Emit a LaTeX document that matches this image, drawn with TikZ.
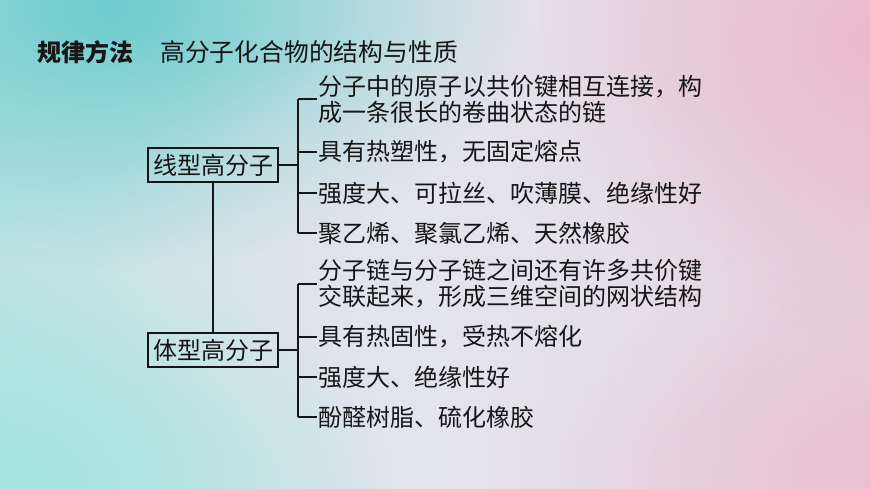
\documentclass[tikz,border=0pt]{standalone}
\usepackage{fontspec}
\newfontfamily\cjk{Noto Sans CJK SC}
\usetikzlibrary{fadings}
\tikzfading[name=softblob, inner color=transparent!0, outer color=transparent!100]
\definecolor{teal1}{RGB}{110,204,206}
\definecolor{cyan1}{RGB}{160,228,224}
\definecolor{pink1}{RGB}{236,186,204}
\definecolor{mid1}{RGB}{228,228,236}
\definecolor{ink}{RGB}{22,22,22}
\tikzset{
  box/.style={draw=ink, line width=1.8pt, inner sep=3pt, font=\cjk\fontsize{24}{26}\selectfont, text=ink, minimum height=34pt},
  item/.style={anchor=west, inner sep=1pt, align=left, font=\cjk\fontsize{24}{26}\selectfont, text=ink},
  link/.style={draw=ink, line width=1.4pt},
  blob/.style={path fading=softblob, fit fading=true},
}
\begin{document}
\begin{tikzpicture}[x=1pt,y=-1pt]
\useasboundingbox (0,0) rectangle (870,489);
% background
\shade[left color=cyan1!55!mid1, right color=pink1!45!mid1, middle color=mid1] (0,0) rectangle (870,489);
\fill[teal1, opacity=1, blob] (110,10) ellipse [x radius=420, y radius=260];
\fill[cyan1, opacity=0.9, blob] (10,480) ellipse [x radius=380, y radius=230];
\fill[pink1, opacity=1, blob] (880,40) ellipse [x radius=340, y radius=300];
\fill[pink1, opacity=0.7, blob] (870,480) ellipse [x radius=320, y radius=220];
\fill[mid1, opacity=0.7, blob] (450,260) ellipse [x radius=360, y radius=240];
% title
\node[anchor=west, inner sep=0pt, font=\cjk\bfseries\fontsize{24}{26}\selectfont, text=ink] (h1) at (37,52) {规律方法};
\node[anchor=west, inner sep=0pt, font=\cjk\fontsize{24.8}{26}\selectfont, text=ink] (h2) at (160,52) {高分子化合物的结构与性质};
% boxes
\node[box, minimum width=130pt] (b1) at (213,165) {线型高分子};
\node[box, minimum width=130pt] (b2) at (213,350) {体型高分子};
\draw[link] (b1) -- (b2);
% junctions
\coordinate (j1) at (298,165);
\coordinate (j2) at (298,350);
\draw[link] (b1.east) -- (j1);
\draw[link] (b2.east) -- (j2);
% items group 1
\node[item] (t11) at (317,99) {分子中的原子以共价键相互连接，构\\成一条很长的卷曲状态的链};
\node[item] (t12) at (317,152) {具有热塑性，无固定熔点};
\node[item] (t13) at (317,193) {强度大、可拉丝、吹薄膜、绝缘性好};
\node[item] (t14) at (317,233) {聚乙烯、聚氯乙烯、天然橡胶};
\draw[link] (t11.west -| j1) -- (t14.west -| j1);
\foreach \t in {t11,t12,t13,t14} \draw[link] (\t.west) -- (\t.west -| j1);
% items group 2
\node[item] (t21) at (317,284) {分子链与分子链之间还有许多共价键\\交联起来，形成三维空间的网状结构};
\node[item] (t22) at (317,337) {具有热固性，受热不熔化};
\node[item] (t23) at (317,377) {强度大、绝缘性好};
\node[item] (t24) at (317,417) {酚醛树脂、硫化橡胶};
\draw[link] (t21.west -| j2) -- (t24.west -| j2);
\foreach \t in {t21,t22,t23,t24} \draw[link] (\t.west) -- (\t.west -| j2);
\end{tikzpicture}
\end{document}
